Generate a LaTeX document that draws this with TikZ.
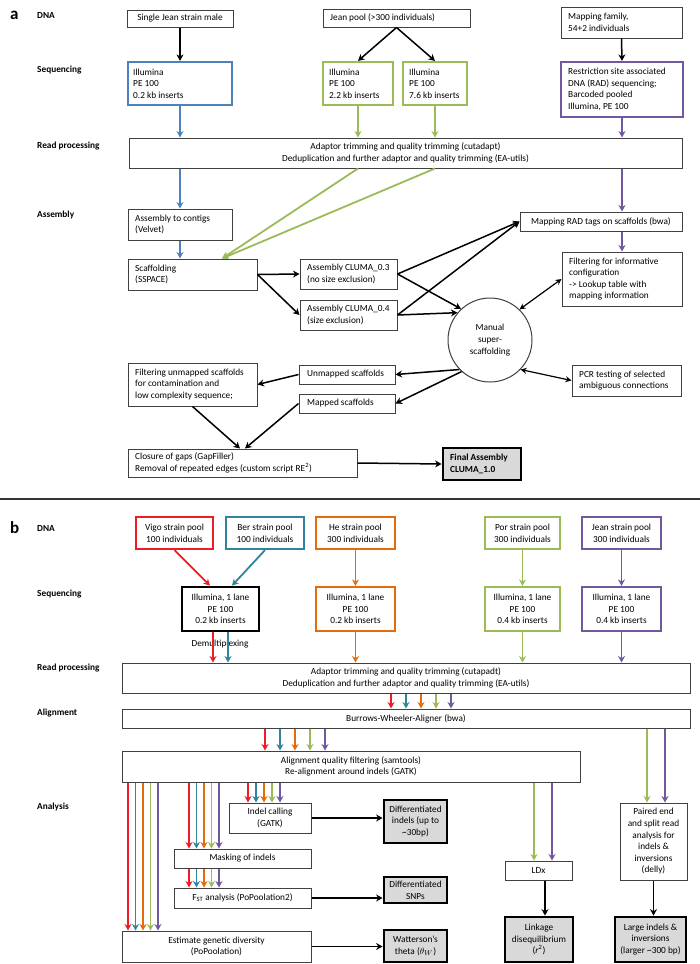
\documentclass[tikz,border=0pt]{standalone}
\usepackage{fontspec}
\setmainfont{Carlito}
\usetikzlibrary{arrows.meta}
\definecolor{cblue}{HTML}{4F81BD}
\definecolor{cgreen}{HTML}{9BBB59}
\definecolor{cpurple}{HTML}{7059A0}
\definecolor{cred}{HTML}{EE1C25}
\definecolor{cteal}{HTML}{31849B}
\definecolor{corange}{HTML}{E46C0A}
\definecolor{cgray}{HTML}{D9D9D9}
\definecolor{cline}{HTML}{404040}
% centred text box: name, style, x1, y1, x2, y2, text
\newcommand{\cbox}[7]{%
  \pgfmathsetmacro{\bxw}{#5-#3}%
  \pgfmathsetmacro{\bxh}{#6-#4}%
  \pgfmathsetmacro{\bxcx}{(#3+#5)/2}%
  \pgfmathsetmacro{\bxcy}{(#4+#6)/2}%
  \node[box,#2,minimum width=\bxw pt,minimum height=\bxh pt] (#1) at (\bxcx,\bxcy) {#7};}
% left aligned text box: name, style, x1, y1, x2, y2, pad, text
\newcommand{\lbox}[8]{%
  \pgfmathsetmacro{\bxw}{#5-#3}%
  \pgfmathsetmacro{\bxh}{#6-#4}%
  \pgfmathsetmacro{\bxcx}{(#3+#5)/2}%
  \pgfmathsetmacro{\bxcy}{(#4+#6)/2}%
  \pgfmathsetmacro{\bxtx}{#3+#7}%
  \node[box,#2,minimum width=\bxw pt,minimum height=\bxh pt] (#1) at (\bxcx,\bxcy) {};
  \node[txt] (#1t) at (\bxtx,\bxcy) {#8};}
\begin{document}
\begin{tikzpicture}[x=1pt,y=-1pt,
  every node/.style={font=\fontsize{9.3}{11.6}\selectfont},
  box/.style={draw=cline, line width=1pt, inner sep=0pt, align=center, fill=white},
  txt/.style={anchor=west, align=left, inner sep=0pt},
  bluebox/.style={draw=cblue, line width=2.2pt},
  greenbox/.style={draw=cgreen, line width=2.2pt},
  purplebox/.style={draw=cpurple, line width=2.2pt},
  redbox/.style={draw=cred, line width=2.2pt},
  tealbox/.style={draw=cteal, line width=2.2pt},
  orangebox/.style={draw=corange, line width=2.2pt},
  blackbox/.style={draw=black, line width=2.8pt},
  outbox/.style={draw=black, line width=2.8pt, fill=cgray},
  rowlab/.style={font=\fontsize{9.3}{11.6}\selectfont\bfseries, anchor=west, inner sep=0pt},
  panel/.style={font=\fontsize{17}{17}\selectfont\bfseries, anchor=west, inner sep=0pt},
  arr/.style={-{Stealth[length=6.5pt,width=7pt]}, line width=1.5pt, draw=black},
  carr/.style={-{Stealth[length=6.5pt,width=7pt]}, line width=1.8pt},
  dbl/.style={{Stealth[length=6pt,width=6pt]}-{Stealth[length=6pt,width=6pt]}, line width=1.2pt, draw=black}
]
\useasboundingbox (0,0) rectangle (700,964);

% ---------------- panel a ----------------
\node[panel] (pa) at (10,15) {a};
\node[rowlab] (la1) at (37,15) {DNA};
\node[rowlab] (la2) at (37,70) {Sequencing};
\node[rowlab] (la3) at (37,146) {Read processing};
\node[rowlab] (la4) at (37,215) {Assembly};

\cbox{sjm}{}{127}{10}{233}{27}{Single Jean strain male}
\lbox{jp}{}{323}{9}{470}{27}{7}{Jean pool (>300 individuals)}
\lbox{mf}{}{561}{7}{682}{38}{7}{Mapping family,\\54+2 individuals}
\lbox{s02}{bluebox}{128}{62}{232}{105}{5}{Illumina\\PE 100\\0.2 kb inserts}
\lbox{s22}{greenbox}{323}{62}{393}{105}{6}{Illumina\\PE 100\\2.2 kb inserts}
\lbox{s76}{greenbox}{403}{62}{467}{105}{6}{Illumina\\PE 100\\7.6 kb inserts}
\lbox{rad}{purplebox}{561}{62}{683}{117}{7}{Restriction site associated\\DNA (RAD) sequencing;\\Barcoded pooled\\Illumina, PE 100}
\cbox{rpa}{}{129}{138}{682}{168}{Adaptor trimming and quality trimming (cutadapt)\\Deduplication and further adaptor and quality trimming (EA-utils)}
\lbox{ctg}{}{128}{209}{232}{240}{7}{Assembly to contigs\\(Velvet)}
\lbox{scf}{}{128}{259}{257}{290}{7}{Scaffolding\\(SSPACE)}
\lbox{c03}{}{300}{259}{397}{289}{7}{Assembly CLUMA\_0.3\\(no size exclusion)}
\lbox{c04}{}{300}{300}{397}{330}{7}{Assembly CLUMA\_0.4\\(size exclusion)}
\cbox{mrad}{}{520}{212}{682}{231}{Mapping RAD tags on scaffolds (bwa)}
\lbox{filt}{}{562}{252}{682}{306}{7}{Filtering for informative\\configuration\\-{}> Lookup table with\\mapping information}
\node[circle, draw=cline, line width=1pt, minimum size=84pt, inner sep=0pt, align=center, fill=white] (msc) at (490,340) {Manual\\super-\\scaffolding};
\lbox{pcr}{}{572}{365}{681}{396}{7}{PCR testing of selected\\ambiguous connections}
\lbox{unm}{}{299}{365}{395}{384}{8}{Unmapped scaffolds}
\lbox{map}{}{299}{394}{395}{413}{8}{Mapped scaffolds}
\lbox{fus}{}{128}{363}{257}{406}{7}{Filtering unmapped scaffolds\\for contamination and\\low complexity sequence;}
\lbox{clo}{}{128}{449}{357}{477}{7}{Closure of gaps (GapFiller)\\Removal of repeated edges (custom script RE\textsuperscript{2})}
\node[box,outbox,minimum width=78pt,minimum height=32pt] (fin) at (482,464) {};
\node[txt,font=\fontsize{9.3}{11.6}\selectfont\bfseries] (fint) at (450,464) {Final Assembly\\CLUMA\_1.0};

\draw[arr] (sjm.south) -- (s02.north);
\draw[arr] (jp.south) -- (s22.north);
\draw[arr] (jp.south) -- (s76.north);
\draw[arr] (mf.south) -- (rad.north);
\draw[carr,draw=cblue] (s02.south) -- (rpa.north -| s02.south);
\draw[carr,draw=cgreen] (s22.south) -- (rpa.north -| s22.south);
\draw[carr,draw=cgreen] (s76.south) -- (rpa.north -| s76.south);
\draw[carr,draw=cpurple] (rad.south) -- (rpa.north -| rad.south);
\draw[carr,draw=cblue] (rpa.south -| ctg.north) -- (ctg.north);
\draw[carr,draw=cblue] (ctg.south) -- (scf.north -| ctg.south);
\draw[carr,draw=cgreen] (rpa.south -| s22.south) -- (scf.north -| 222,0);
\draw[carr,draw=cgreen] (rpa.south -| s76.south) -- (scf.north -| 222,0);
\draw[carr,draw=cpurple] (rpa.south -| rad.south) -- (mrad.north -| rad.south);
\draw[carr,draw=cpurple] (mrad.south -| filt.north) -- (filt.north);
\draw[arr] (scf.east) -- (c03.west);
\draw[arr] (scf.east) -- (c04.west);
\draw[arr] (c03.east) -- (mrad.west);
\draw[arr] (c04.east) -- (mrad.west);
\draw[arr] (c03.east) -- (msc.133);
\draw[arr] (c04.east) -- (msc.140);
\draw[dbl] (msc.46) -- (filt.west);
\draw[dbl] (msc.-44) -- (pcr.west);
\draw[arr] (msc.224) -- (unm.east);
\draw[arr] (msc.228) -- (map.east);
\draw[arr] (unm.west) -- (fus.east);
\draw[arr] (fus.south) -- (clo.north -| 240,0);
\draw[arr] (map.west) -- (clo.north -| 245,0);
\draw[arr] (clo.east) -- (fin.west);

% separator
\draw[line width=2.6pt, draw=black!80] (0,499) -- (700,499);

% ---------------- panel b ----------------
\node[panel] (pb) at (10,528) {b};
\node[rowlab] (lb1) at (37,528) {DNA};
\node[rowlab] (lb2) at (37,594) {Sequencing};
\node[rowlab] (lb3) at (37,668) {Read processing};
\node[rowlab] (lb4) at (37,713) {Alignment};
\node[rowlab] (lb5) at (37,807) {Analysis};

\cbox{vigo}{redbox}{136}{517}{213}{549}{Vigo strain pool\\100 individuals}
\cbox{ber}{tealbox}{226}{517}{304}{549}{Ber strain pool\\100 individuals}
\cbox{he}{orangebox}{316}{517}{395}{549}{He strain pool\\300 individuals}
\cbox{por}{greenbox}{485}{517}{560}{549}{Por strain pool\\300 individuals}
\cbox{jean}{purplebox}{582}{517}{661}{549}{Jean strain pool\\300 individuals}
\cbox{sq1}{blackbox}{182}{587}{259}{631}{Illumina, 1 lane\\PE 100\\0.2 kb inserts}
\cbox{sq2}{orangebox}{316}{587}{395}{631}{Illumina, 1 lane\\PE 100\\0.2 kb inserts}
\cbox{sq3}{greenbox}{485}{587}{560}{631}{Illumina, 1 lane\\PE 100\\0.4 kb inserts}
\cbox{sq4}{purplebox}{582}{587}{661}{631}{Illumina, 1 lane\\PE 100\\0.4 kb inserts}
\node[inner sep=0pt] (dmx) at (220,644) {Demultiplexing};
\cbox{rpb}{}{122}{663}{690}{693}{Adaptor trimming and quality trimming (cutapadt)\\Deduplication and further adaptor and quality trimming (EA-utils)}
\cbox{aln}{}{122}{709}{690}{728}{Burrows-Wheeler-Aligner (bwa)}
\cbox{aqf}{}{122}{751}{580}{782}{Alignment quality filtering (samtools)\\Re-alignment around indels (GATK)}
\cbox{ind}{}{229}{803}{311}{833}{Indel calling\\(GATK)}
\cbox{msk}{}{174}{849}{311}{868}{Masking of indels}
\cbox{fst}{}{174}{888}{311}{908}{F\textsubscript{ST} analysis (PoPoolation2)}
\cbox{egd}{}{122}{931}{311}{962}{Estimate genetic diversity\\(PoPoolation)}
\cbox{din}{outbox}{384}{800}{447}{843}{Differentiated\\indels (up to\\\textasciitilde30bp)}
\cbox{dsn}{outbox}{384}{877}{447}{903}{Differentiated\\SNPs}
\cbox{wat}{outbox}{384}{930}{447}{962}{Watterson’s\\theta ($\theta_{W}$)}
\cbox{ldx}{}{505}{861}{572}{880}{LDx}
\cbox{ld}{outbox}{505}{917}{573}{962}{Linkage\\disequilibrium\\(\textit{r}\textsuperscript{2})}
\cbox{del}{}{620}{803}{687}{880}{Paired end\\and split read\\analysis for\\indels \&\\inversions\\(delly)}
\cbox{lin}{outbox}{615}{917}{686}{962}{Large indels \&\\inversions\\(larger \textasciitilde300 bp)}

\draw[carr,draw=cred] (vigo.south) -- (sq1.north -| 210,0);
\draw[carr,draw=cteal] (ber.south) -- (sq1.north -| 232,0);
\draw[carr,draw=corange] (he.south) -- (sq2.north);
\draw[carr,draw=cgreen] (por.south) -- (sq3.north);
\draw[carr,draw=cpurple] (jean.south) -- (sq4.north);
\draw[carr,draw=cred] (sq1.south -| 213,0) -- (rpb.north -| 213,0);
\draw[carr,draw=cteal] (sq1.south -| 228,0) -- (rpb.north -| 228,0);
\draw[carr,draw=corange] (sq2.south) -- (rpb.north -| sq2.south);
\draw[carr,draw=cgreen] (sq3.south) -- (rpb.north -| sq3.south);
\draw[carr,draw=cpurple] (sq4.south) -- (rpb.north -| sq4.south);
\foreach \x/\c in {391/cred,406/cteal,421/corange,436/cgreen,451/cpurple}
  \draw[carr,draw=\c] (rpb.south -| \x,0) -- (aln.north -| \x,0);
\foreach \x/\c in {265/cred,280/cteal,295/corange,310/cgreen,325/cpurple}
  \draw[carr,draw=\c] (aln.south -| \x,0) -- (aqf.north -| \x,0);
\foreach \x/\c in {647/cgreen,665/cpurple}
  \draw[carr,draw=\c] (aln.south -| \x,0) -- (del.north -| \x,0);
\foreach \x/\c in {534/cgreen,552/cpurple}
  \draw[carr,draw=\c] (aqf.south -| \x,0) -- (ldx.north -| \x,0);
\foreach \x/\c in {128/cred,135.5/cteal,143/corange,150.5/cgreen,158/cpurple}
  \draw[carr,draw=\c] (aqf.south -| \x,0) -- (egd.north -| \x,0);
\foreach \x/\c in {189/cred,196.5/cteal,204/corange,211.5/cgreen,219/cpurple}{
  \draw[carr,draw=\c] (aqf.south -| \x,0) -- (msk.north -| \x,0);
  \draw[carr,draw=\c] (msk.south -| \x,0) -- (fst.north -| \x,0);}
\foreach \x/\c in {248/cred,256/cteal,264/corange,272/cgreen,280/cpurple}
  \draw[carr,draw=\c] (aqf.south -| \x,0) -- (ind.north -| \x,0);
\draw[arr] (ind.east) -- (ind.east -| din.west);
\draw[arr] (fst.east) -- (fst.east -| dsn.west);
\draw[arr] (egd.east) -- (egd.east -| wat.west);
\draw[arr] (ldx.south -| 545,0) -- (ld.north -| 545,0);
\draw[arr] (del.south) -- (lin.north -| del.south);
\end{tikzpicture}
\end{document}
